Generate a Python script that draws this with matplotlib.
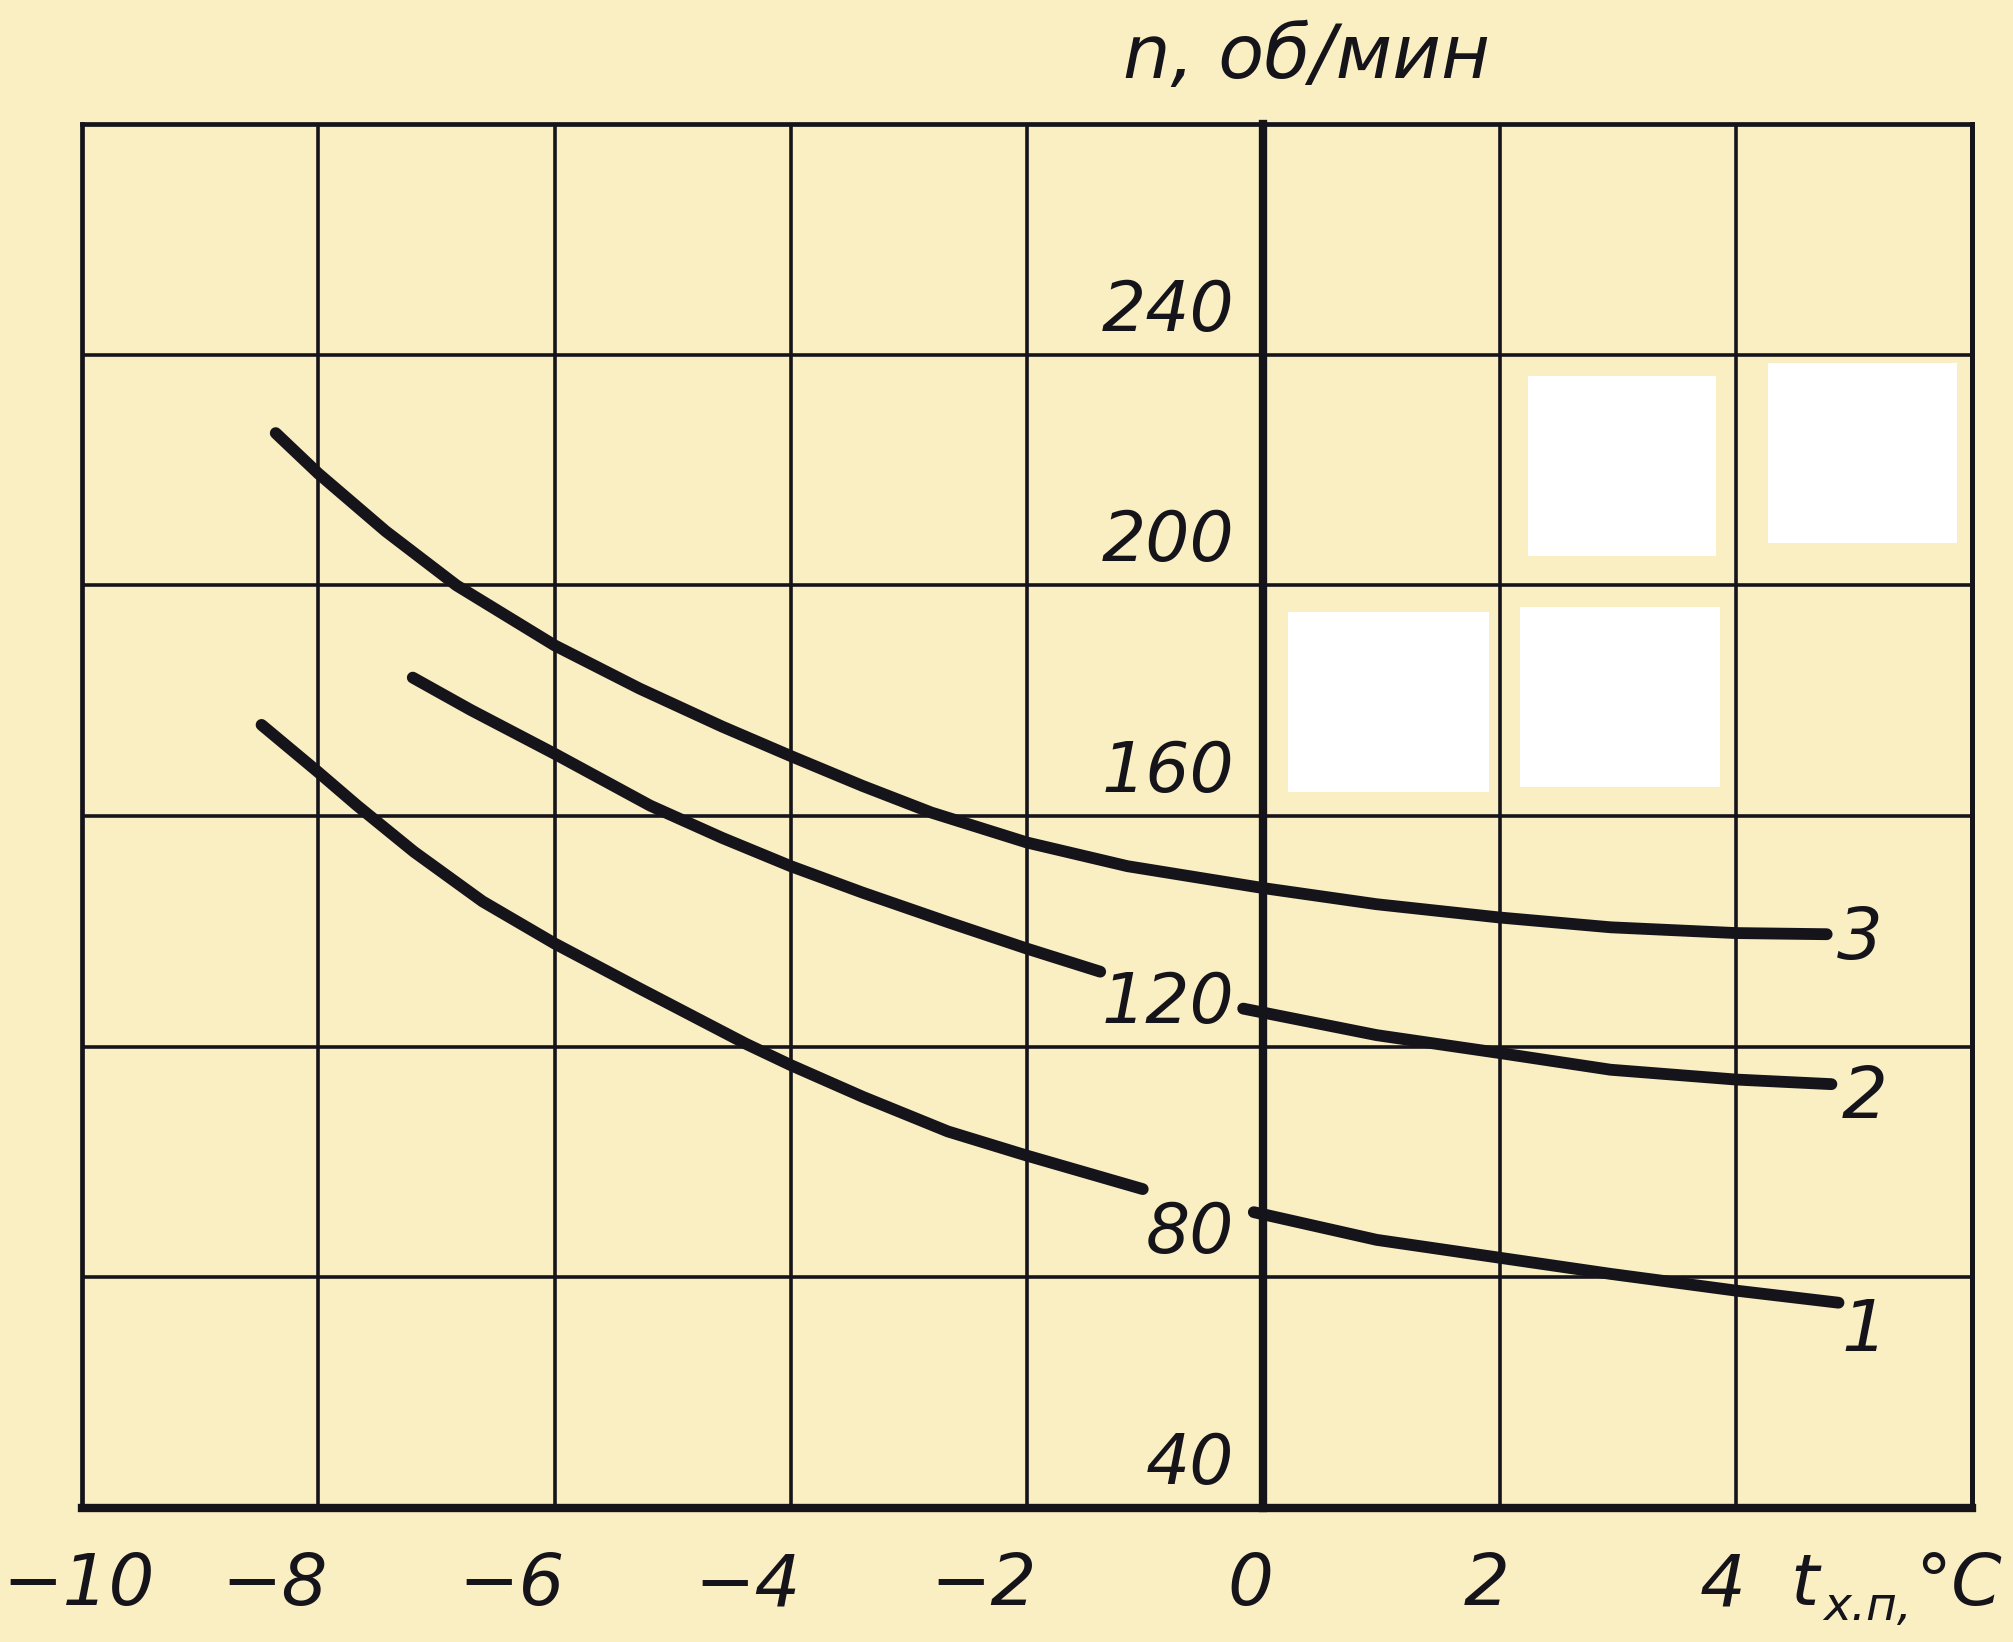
import matplotlib
matplotlib.use('Agg')
import matplotlib.pyplot as plt
import matplotlib.transforms as mtransforms
from matplotlib import font_manager
from matplotlib.patches import Rectangle

# axis ticks / labels
x_ticks = [-10, -8, -6, -4, -2, 0, 2, 4, 6]
x_labels = ['\u221210', '\u22128', '\u22126', '\u22124', '\u22122', '0', '2', '4', '']
y_ticks = [40, 80, 120, 160, 200, 240, 280]
y_labels = ['40', '80', '120', '160', '200', '240', '']

# curve 3
c3_x = [-8.36, -8.0, -7.43, -6.83, -6.0, -5.28, -4.58, -4.0, -3.39, -2.81, -2.0, -1.15, 0.0, 0.96, 2.0, 2.94, 4.0, 4.77]
c3_y = [226.4, 219.4, 209.4, 200.0, 189.6, 182.1, 175.5, 170.4, 165.2, 160.6, 155.4, 151.3, 147.5, 144.7, 142.4, 140.7, 139.7, 139.5]
# curve 2 (broken around the "120" label)
c2a_x = [-7.20, -6.71, -6.0, -5.19, -4.58, -4.0, -3.39, -2.67, -2.0, -1.38]
c2a_y = [184.0, 178.4, 170.8, 161.8, 156.2, 151.3, 146.7, 141.6, 137.0, 133.0]
c2b_x = [-0.17, 0.96, 2.0, 2.94, 4.0, 4.81]
c2b_y = [126.6, 122.0, 118.9, 116.0, 114.3, 113.5]
# curve 1 (broken around the "80" label)
c1a_x = [-8.48, -8.0, -7.67, -7.19, -6.61, -6.0, -5.28, -4.38, -4.0, -3.39, -2.67, -2.0, -1.02]
c1a_y = [175.8, 167.6, 161.8, 153.8, 145.2, 137.9, 130.1, 120.5, 116.8, 111.3, 105.3, 101.1, 95.3]
c1b_x = [-0.08, 0.96, 2.0, 2.94, 4.0, 4.87]
c1b_y = [91.3, 86.5, 83.4, 80.6, 77.7, 75.6]

curve_names = ['3', '2', '1']
name_shift = [(0.28, -1.0), (0.28, -2.5), (0.22, -5.0)]   # label offset from curve end

paper = '#F9EFC3'
ink = '#16141b'
W, H = 2013, 1642

# a narrow face for the tall drafting digits, if there is one
names = {f.name for f in font_manager.fontManager.ttflist}
if 'Liberation Sans Narrow' in names:
    xfont, xsize = 'Liberation Sans Narrow', 70
else:
    xfont, xsize = 'DejaVu Sans', 52

fig = plt.figure(figsize=(W / 100, H / 100), dpi=100, facecolor=paper)
ax = fig.add_axes([82 / W, 1 - 1508 / H, 1890 / W, 1384 / H], facecolor=paper)
ax.set_xlim(-10, 6)
ax.set_ylim(40, 280)

ax.set_xticks(x_ticks, x_labels)
ax.set_yticks(y_ticks, y_labels)
ax.grid(True, color=ink, lw=2.6)
ax.set_axisbelow(True)
ax.tick_params(length=0, colors=ink)
ax.tick_params(axis='x', pad=70, labelsize=xsize)
ax.tick_params(axis='y', pad=21, labelsize=50)

# y axis drawn through t = 0, thick; frame around everything
ax.spines['left'].set_position(('data', 0))
ax.spines['left'].set_linewidth(6)
ax.spines['bottom'].set_linewidth(6)
ax.spines['top'].set_linewidth(3.4)
ax.spines['right'].set_linewidth(3.6)
for s in ax.spines.values():
    s.set_color(ink)
ax.axvline(-10, color=ink, lw=3.4, clip_on=False)

dx = mtransforms.ScaledTranslation(0.10, 0, fig.dpi_scale_trans)
first = mtransforms.ScaledTranslation(-0.80, 0, fig.dpi_scale_trans)
for i, lab in enumerate(ax.get_xticklabels()):
    lab.set_verticalalignment('baseline')
    lab.set_fontstyle('italic')
    lab.set_family(xfont)
    if i == 0:
        # "-10" sits hard against the left edge of the sheet
        lab.set_horizontalalignment('left')
        lab.set_transform(lab.get_transform() + first)
    else:
        lab.set_horizontalalignment('right')
        lab.set_transform(lab.get_transform() + dx)
dy = mtransforms.ScaledTranslation(0, 0.24, fig.dpi_scale_trans)
for lab in ax.get_yticklabels():
    lab.set_verticalalignment('baseline')
    lab.set_fontstyle('italic')
    lab.set_transform(lab.get_transform() + dy)

# curves
kw = dict(color=ink, lw=8.5, solid_capstyle='round', solid_joinstyle='round', zorder=3)
ax.plot(c3_x, c3_y, **kw)
ax.plot(c2a_x, c2a_y, **kw)
ax.plot(c2b_x, c2b_y, **kw)
ax.plot(c1a_x, c1a_y, **kw)
ax.plot(c1b_x, c1b_y, **kw)

ends = [(c3_x[-1], c3_y[-1]), (c2b_x[-1], c2b_y[-1]), (c1b_x[-1], c1b_y[-1])]
for (ex, ey), name, (sx, sy) in zip(ends, curve_names, name_shift):
    ax.text(ex + sx, ey + sy, name, ha='center', va='center', fontsize=52,
            style='italic', color=ink)

# axis titles
ax.text(0.648, 1 + 46 / 1384, 'n, об/мин', transform=ax.transAxes, ha='center',
        va='baseline', fontsize=54, style='italic', color=ink)
bt = mtransforms.blended_transform_factory(ax.transData, ax.transAxes)
ax.text(4.46, -97 / 1384, 't', transform=bt, ha='left', va='baseline',
        fontsize=xsize, style='italic', family=xfont, color=ink)
ax.text(4.74, -112 / 1384, 'х.п,', transform=bt, ha='left', va='baseline',
        fontsize=34, style='italic', color=ink)
ax.text(5.52, -97 / 1384, '°C', transform=bt, ha='left', va='baseline',
        fontsize=xsize, style='italic', family=xfont, color=ink)

# blank white patches present on the scanned sheet
for x0, y0, x1, y1 in [(1528, 376, 1716, 556), (1768, 363, 1957, 543),
                       (1288, 612, 1489, 792), (1520, 607, 1720, 787)]:
    fig.add_artist(Rectangle((x0 / W, 1 - y1 / H), (x1 - x0) / W, (y1 - y0) / H,
                             transform=fig.transFigure, fc='white', ec='none', zorder=10))

fig.savefig('out.png', dpi=100, facecolor=paper)
